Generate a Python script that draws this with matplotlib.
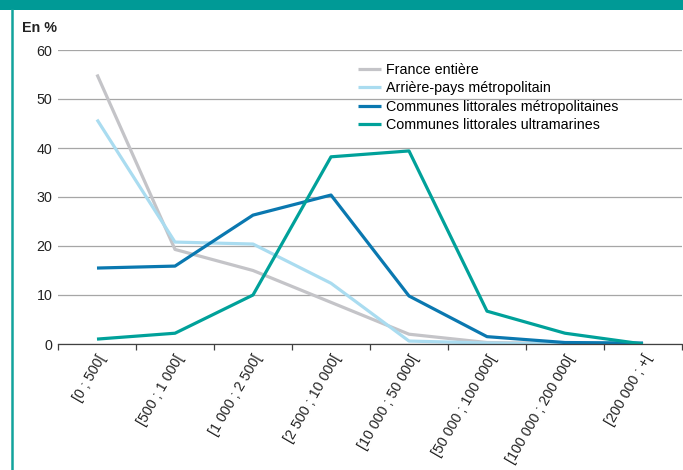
import matplotlib.pyplot as plt
from matplotlib.patches import Rectangle
from matplotlib.lines import Line2D

plt.rcParams['font.family'] = ['Liberation Sans', 'DejaVu Sans']

categories = ["[0 ; 500[", "[500 ; 1 000[", "[1 000 ; 2 500[", "[2 500 ; 10 000[",
              "[10 000 ; 50 000[", "[50 000 ; 100 000[", "[100 000 ; 200 000[", "[200 000 ; +["]
france = [55.0, 19.3, 15.0, 8.5, 2.0, 0.3, 0.1, 0.0]
arriere_pays = [45.8, 20.8, 20.4, 12.4, 0.6, 0.2, 0.0, 0.0]
littoral_metro = [15.5, 15.9, 26.3, 30.4, 9.8, 1.5, 0.3, 0.2]
littoral_ultra = [1.0, 2.2, 10.0, 38.2, 39.4, 6.7, 2.2, 0.0]

series = [
    ("France entière", france, "#c4c4c8"),
    ("Arrière-pays métropolitain", arriere_pays, "#aadcf0"),
    ("Communes littorales métropolitaines", littoral_metro, "#0a78b0"),
    ("Communes littorales ultramarines", littoral_ultra, "#00a19a"),
]

fig = plt.figure(figsize=(6.83, 4.70), dpi=100)

# frame decoration: teal band on top, teal rule on the left
fig.patches.append(Rectangle((0, 1 - 10 / 470), 1, 10 / 470, transform=fig.transFigure,
                             facecolor="#009a96", edgecolor="none"))
fig.add_artist(Line2D([12 / 683, 12 / 683], [0, 1 - 10 / 470], transform=fig.transFigure,
                      color="#12a39c", lw=1.8))

ax = fig.add_axes([58 / 683, 1 - 344 / 470, 624 / 683, 294 / 470])
x = range(len(categories))
for label, values, color in series:
    ax.plot(x, values, color=color, lw=2.3, label=label, solid_capstyle="butt")

ax.set_xlim(-0.5, len(categories) - 0.5)
ax.set_ylim(0, 60)
ax.set_yticks(range(0, 61, 10))
ax.yaxis.grid(True, color="#a6a6a6", lw=0.9)
ax.set_axisbelow(True)
for s in ["top", "right", "left"]:
    ax.spines[s].set_visible(False)
ax.spines["bottom"].set_color("#404040")
ax.spines["bottom"].set_linewidth(0.9)

ax.set_xticks([i - 0.5 for i in range(len(categories) + 1)], minor=False)
ax.set_xticklabels([])
ax.set_xticks(list(x), minor=True)
ax.set_xticklabels(categories, minor=True, rotation=60, ha="right", va="top",
                   rotation_mode="anchor", fontsize=10.3, color="#222222")
ax.tick_params(axis="x", which="major", length=4, color="#404040", width=0.9)
ax.tick_params(axis="x", which="minor", length=0, pad=6)
ax.tick_params(axis="y", length=0, pad=4, labelsize=10.3, labelcolor="#222222")

fig.text(22 / 683, 1 - 28 / 470, "En %", fontsize=10.3, fontweight="bold",
         va="center", ha="left", color="#222222")

ax.legend(loc="upper left", bbox_to_anchor=(0.471, 0.975), frameon=False,
          fontsize=10.3, handlelength=1.6, handletextpad=0.4, labelspacing=0.3,
          borderaxespad=0)

fig.savefig("out.png", dpi=100)
